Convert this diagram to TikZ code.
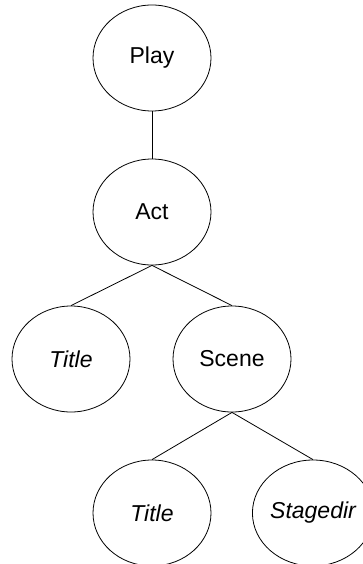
\documentclass[tikz,border=0pt]{standalone}
\usepackage{fontspec}
\setmainfont{Liberation Sans}
\usetikzlibrary{shapes.geometric}

\begin{document}
\begin{tikzpicture}[x=1pt, y=-1pt,
		elem/.style={draw, ellipse, line width=0.8pt, inner sep=0pt,
			minimum width=118pt, minimum height=106pt,
			font=\fontsize{23}{27}\selectfont},
		edge/.style={line width=0.8pt}]
		\useasboundingbox (0, 0) rectangle (363, 564);

		\node[elem] (play) at (152, 58) {Play};
		\node[elem] (act) at (152, 212) {Act};

		\node[elem] (title) at (71, 359) {\itshape Title};
		\node[elem] (scene) at (232, 359) {Scene};

		\node[elem] (stitle) at (152, 513) {\itshape Title};
		\node[elem] (stagedir) at (313, 513) {\itshape Stagedir};

		\draw[edge] (play.south) -- (act.north);
		\draw[edge] (act.south) -- (title.north);
		\draw[edge] (act.south) -- (scene.north);
		\draw[edge] (scene.south) -- (stitle.north);
		\draw[edge] (scene.south) -- (stagedir.north);
\end{tikzpicture}
\end{document}
